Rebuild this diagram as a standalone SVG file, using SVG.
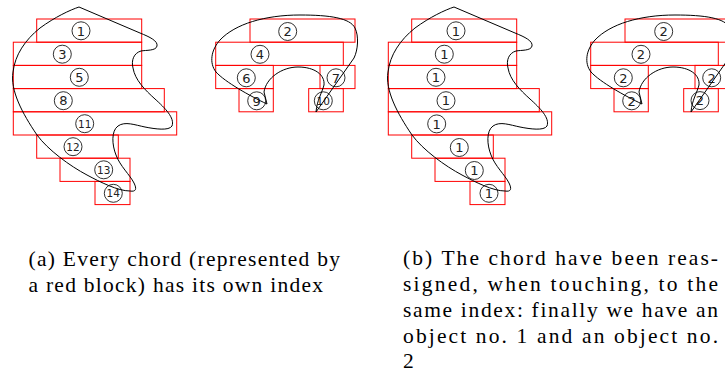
<svg xmlns="http://www.w3.org/2000/svg" xmlns:xlink="http://www.w3.org/1999/xlink" width="725" height="372" viewBox="0 0 725 372">
<style>
.chord{fill:none;stroke:#ff0000;stroke-width:1}
.idx{fill:none;stroke:#1a1a1a;stroke-width:0.9}
.num{font-family:'DejaVu Sans',sans-serif;font-size:13px;fill:#222;text-anchor:middle}
.num2{font-family:'DejaVu Sans',sans-serif;font-size:10.5px;fill:#222;text-anchor:middle}
.blob{fill:none;stroke:#000;stroke-width:1}
.cap{font-family:'Liberation Serif','Times New Roman',serif;font-size:21.5px;fill:#000}
</style>
<defs>
<path id="blobA" d="M 79,7 L 140,33 C 150,37 158,41 157,46 C 156,51 146,50 141,51 C 134,53 131,60 133,68 C 135,80 145,90 155,99 C 165,108 175,118 172,126 C 169,131 155,129 145,127 C 135,125 125,121 118,126 C 111,131 112,145 116,155 C 120,166 130,175 134,183 C 137,189 136,192 130,191 C 118,191 100,182 87,175 C 70,166 48,150 37,135 C 22,113 10,90 13,72 C 15,55 25,40 40,28 C 55,17 70,10 79,7 Z"/>
<path id="blobB" d="M 300,15 C 330,15 350,18 355,28 C 359,36 358,50 354,58 L 316,112 C 317,100 322,93 324,85 C 325,75 315,67 298,67 C 282,67 266,78 264,92 L 267,104 C 250,96 225,82 216,72 C 209,63 211,50 220,40 C 235,24 265,15 300,15 Z"/>
</defs>

<!-- Panel (a) -->
<g id="a-chord-1"><rect class="chord" x="36.7" y="19" width="105" height="23.2"/><circle class="idx" cx="81" cy="30.8" r="9"/><text class="num" x="81" y="35.5">1</text></g>
<g id="a-chord-3"><rect class="chord" x="13.3" y="42.2" width="128.4" height="23.2"/><circle class="idx" cx="62.3" cy="54.2" r="9"/><text class="num" x="62.3" y="58.9">3</text></g>
<g id="a-chord-5"><rect class="chord" x="13.3" y="65.4" width="128.4" height="23.2"/><circle class="idx" cx="79.3" cy="77.3" r="9"/><text class="num" x="79.3" y="82">5</text></g>
<g id="a-chord-8"><rect class="chord" x="13.3" y="88.6" width="151" height="23.2"/><circle class="idx" cx="63.3" cy="100.7" r="9"/><text class="num" x="63.3" y="105.4">8</text></g>
<g id="a-chord-11"><rect class="chord" x="13.3" y="111.8" width="163.4" height="23.2"/><circle class="idx" cx="84.7" cy="123.7" r="9"/><text class="num2" x="84.7" y="127.5">11</text></g>
<g id="a-chord-12"><rect class="chord" x="36.7" y="135" width="81.6" height="23.2"/><circle class="idx" cx="73" cy="146.7" r="9"/><text class="num2" x="73" y="150.5">12</text></g>
<g id="a-chord-13"><rect class="chord" x="60" y="158.2" width="70" height="23.2"/><circle class="idx" cx="103.7" cy="169.8" r="9"/><text class="num2" x="103.7" y="173.6">13</text></g>
<g id="a-chord-14"><rect class="chord" x="95" y="181.4" width="35" height="23.2"/><circle class="idx" cx="113.3" cy="193.3" r="9"/><text class="num2" x="113.3" y="197.1">14</text></g>

<g id="a-chord-2"><rect class="chord" x="250" y="19" width="105" height="23.2"/><circle class="idx" cx="287.7" cy="31.5" r="9"/><text class="num" x="287.7" y="36.2">2</text></g>
<g id="a-chord-4"><rect class="chord" x="215.7" y="42.2" width="127.6" height="23.2"/><circle class="idx" cx="260" cy="54.3" r="9"/><text class="num" x="260" y="59">4</text></g>
<g id="a-chord-6"><rect class="chord" x="215.7" y="65.4" width="57.6" height="23.2"/><circle class="idx" cx="246.3" cy="77.8" r="9"/><text class="num" x="246.3" y="82.5">6</text></g>
<g id="a-chord-7"><rect class="chord" x="320" y="65.4" width="35" height="23.2"/><circle class="idx" cx="336" cy="77.8" r="9"/><text class="num" x="336" y="82.5">7</text></g>
<g id="a-chord-9"><rect class="chord" x="239" y="88.6" width="34.3" height="23.2"/><circle class="idx" cx="256.7" cy="100.8" r="9"/><text class="num" x="256.7" y="105.5">9</text></g>
<g id="a-chord-10"><rect class="chord" x="308.7" y="88.6" width="34.6" height="23.2"/><circle class="idx" cx="323.3" cy="100.8" r="9"/><text class="num2" x="323.3" y="104.6">10</text></g>

<g id="outlines-a">
<use xlink:href="#blobA" class="blob"/>
<use xlink:href="#blobB" class="blob"/>
</g>

<!-- Panel (b) -->
<g id="b-chord-r1"><rect class="chord" x="411.7" y="19" width="105" height="23.2"/><circle class="idx" cx="456" cy="30.8" r="9"/><text class="num" x="456" y="35.5">1</text></g>
<g id="b-chord-r2"><rect class="chord" x="388.3" y="42.2" width="128.4" height="23.2"/><circle class="idx" cx="444.3" cy="54.2" r="9"/><text class="num" x="444.3" y="58.9">1</text></g>
<g id="b-chord-r3"><rect class="chord" x="388.3" y="65.4" width="128.4" height="23.2"/><circle class="idx" cx="436" cy="77.3" r="9"/><text class="num" x="436" y="82">1</text></g>
<g id="b-chord-r4"><rect class="chord" x="388.3" y="88.6" width="151" height="23.2"/><circle class="idx" cx="446" cy="100.7" r="9"/><text class="num" x="446" y="105.4">1</text></g>
<g id="b-chord-r5"><rect class="chord" x="388.3" y="111.8" width="163.4" height="23.2"/><circle class="idx" cx="436.7" cy="123.9" r="9"/><text class="num" x="436.7" y="128.6">1</text></g>
<g id="b-chord-r6"><rect class="chord" x="411.7" y="135" width="81.6" height="23.2"/><circle class="idx" cx="459.3" cy="147.5" r="9"/><text class="num" x="459.3" y="152.2">1</text></g>
<g id="b-chord-r7"><rect class="chord" x="435" y="158.2" width="70" height="23.2"/><circle class="idx" cx="474.3" cy="170.5" r="9"/><text class="num" x="474.3" y="175.2">1</text></g>
<g id="b-chord-r8"><rect class="chord" x="470" y="181.4" width="35" height="23.2"/><circle class="idx" cx="489" cy="193.3" r="9"/><text class="num" x="489" y="198">1</text></g>

<g id="b-chord-s1"><rect class="chord" x="625" y="19" width="105" height="23.2"/><circle class="idx" cx="663.7" cy="31.5" r="9"/><text class="num" x="663.7" y="36.2">2</text></g>
<g id="b-chord-s2"><rect class="chord" x="590.7" y="42.2" width="127.6" height="23.2"/><circle class="idx" cx="641" cy="54.3" r="9"/><text class="num" x="641" y="59">2</text></g>
<g id="b-chord-s3"><rect class="chord" x="590.7" y="65.4" width="57.6" height="23.2"/><circle class="idx" cx="623.3" cy="77.8" r="9"/><text class="num" x="623.3" y="82.5">2</text></g>
<g id="b-chord-s4"><rect class="chord" x="695" y="65.4" width="35" height="23.2"/><circle class="idx" cx="711.7" cy="77.8" r="9"/><text class="num" x="711.7" y="82.5">2</text></g>
<g id="b-chord-s5"><rect class="chord" x="614" y="88.6" width="34.3" height="23.2"/><circle class="idx" cx="631.7" cy="100.8" r="9"/><text class="num" x="631.7" y="105.5">2</text></g>
<g id="b-chord-s6"><rect class="chord" x="683.7" y="88.6" width="34.6" height="23.2"/><circle class="idx" cx="700" cy="100.6" r="9"/><text class="num" x="700" y="105.3">2</text></g>

<g id="outlines-b" transform="translate(375,0)">
<use xlink:href="#blobA" class="blob"/>
<use xlink:href="#blobB" class="blob"/>
</g>

<!-- Captions -->
<g id="caption-a">
<text class="cap" x="28.5" y="266" textLength="311.5" lengthAdjust="spacing">(a) Every chord (represented by</text>
<text class="cap" x="28.5" y="292" textLength="294.5" lengthAdjust="spacing">a red block) has its own index</text>
</g>
<g id="caption-b">
<text class="cap" x="403" y="265" textLength="315" lengthAdjust="spacing">(b) The chord have been reas-</text>
<text class="cap" x="403" y="291" textLength="315" lengthAdjust="spacing">signed, when touching, to the</text>
<text class="cap" x="403" y="317" textLength="315" lengthAdjust="spacing">same index: finally we have an</text>
<text class="cap" x="403" y="343" textLength="315" lengthAdjust="spacing">object no. 1 and an object no.</text>
<text class="cap" x="403" y="368">2</text>
</g>
</svg>
